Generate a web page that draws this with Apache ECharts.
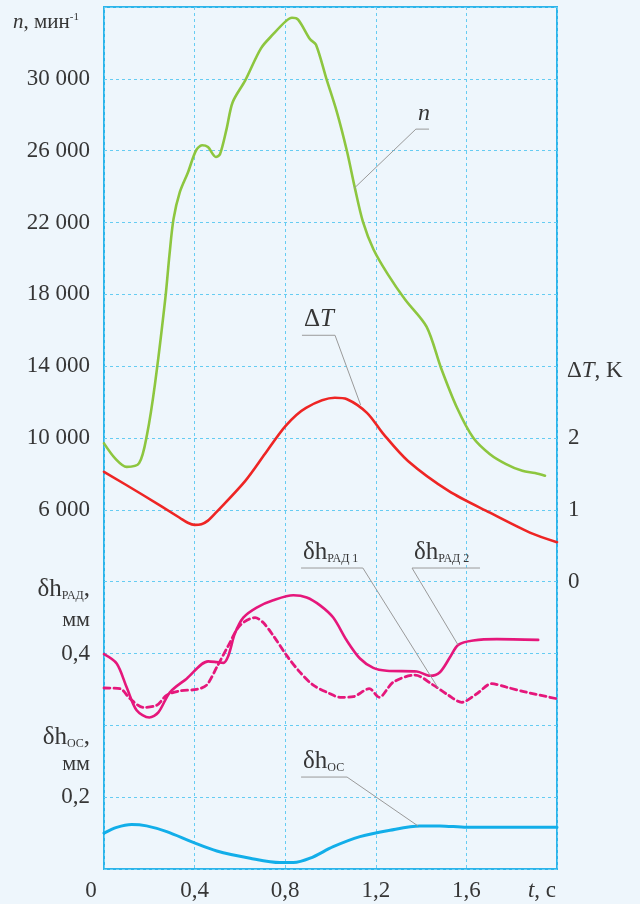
<!DOCTYPE html>
<html>
<head>
<meta charset="utf-8">
<script src="https://cdn.jsdelivr.net/npm/echarts@6/dist/echarts.min.js"></script>
<style>
  html, body { margin: 0; padding: 0; background: #eef6fc; }
  #chart { width: 640px; height: 904px; }
</style>
</head>
<body>
<div id="chart"></div>
<script>
// ---- tick labels ----
const timeTicks = [0, 0.4, 0.8, 1.2, 1.6, 2.0];
const speedTicks = [6000, 10000, 14000, 18000, 22000, 26000, 30000];
const tempTicks = [0, 1, 2];
const gapTicks = [0.2, 0.4];

// ---- rotor speed n, min^-1 ----
const speedTime = [0, 0.05, 0.1, 0.155, 0.19, 0.225, 0.271, 0.289, 0.307, 0.335, 0.371, 0.406, 0.433, 0.459, 0.494, 0.512, 0.541, 0.568, 0.623, 0.693, 0.748, 0.802, 0.83, 0.857, 0.91, 0.936, 0.982, 1.027, 1.073, 1.108, 1.143, 1.19, 1.254, 1.33, 1.424, 1.488, 1.558, 1.631, 1.704, 1.775, 1.847, 1.903, 1.947];
const speedValues = [9700, 8850, 8390, 8600, 10200, 13000, 17800, 20200, 22200, 23700, 24800, 26000, 26300, 26200, 25650, 25800, 27200, 28700, 29900, 31700, 32500, 33200, 33400, 33300, 32200, 31900, 30000, 28200, 25950, 23900, 22050, 20500, 19100, 17700, 16200, 13900, 11700, 10000, 9100, 8550, 8170, 8050, 7900];

// ---- temperature difference ΔT, K ----
const tempTime = [0, 0.17, 0.334, 0.37, 0.4, 0.43, 0.459, 0.494, 0.623, 0.711, 0.802, 0.892, 1.019, 1.073, 1.161, 1.235, 1.342, 1.523, 1.704, 1.883, 2.0];
const tempValues = [1.53, 1.21, 0.89, 0.82, 0.79, 0.80, 0.85, 0.96, 1.40, 1.78, 2.17, 2.42, 2.56, 2.54, 2.35, 2.05, 1.68, 1.26, 0.96, 0.68, 0.55];

// ---- radial gap δh_РАД 1 (dashed), mm ----
const gap1Time = [0, 0.071, 0.115, 0.174, 0.233, 0.277, 0.336, 0.409, 0.453, 0.498, 0.549, 0.6, 0.667, 0.703, 0.747, 0.807, 0.865, 0.924, 0.998, 1.042, 1.101, 1.171, 1.215, 1.277, 1.373, 1.454, 1.52, 1.579, 1.646, 1.712, 1.778, 1.866, 2.0];
const gap1Values = [0.352, 0.351, 0.337, 0.325, 0.328, 0.342, 0.348, 0.35, 0.356, 0.381, 0.411, 0.439, 0.45, 0.443, 0.425, 0.397, 0.374, 0.356, 0.344, 0.339, 0.34, 0.351, 0.339, 0.36, 0.37, 0.356, 0.342, 0.332, 0.344, 0.358, 0.353, 0.346, 0.337];

// ---- radial gap δh_РАД 2 (solid), mm ----
const gap2Time = [0, 0.056, 0.1, 0.144, 0.2, 0.24, 0.291, 0.365, 0.46, 0.498, 0.527, 0.549, 0.578, 0.615, 0.674, 0.747, 0.836, 0.895, 0.954, 1.012, 1.072, 1.13, 1.189, 1.248, 1.381, 1.439, 1.483, 1.528, 1.564, 1.63, 1.734, 1.917];
const gap2Values = [0.399, 0.386, 0.353, 0.321, 0.311, 0.318, 0.346, 0.365, 0.389, 0.388, 0.387, 0.397, 0.428, 0.45, 0.464, 0.474, 0.481, 0.478, 0.467, 0.45, 0.418, 0.393, 0.38, 0.376, 0.375, 0.369, 0.374, 0.395, 0.412, 0.418, 0.42, 0.419];

// ---- axial gap δh_ОС, mm ----
const gapOsTime = [0, 0.056, 0.122, 0.188, 0.277, 0.394, 0.498, 0.645, 0.777, 0.836, 0.91, 1.012, 1.13, 1.263, 1.395, 1.483, 1.601, 2.0];
const gapOsValues = [0.150, 0.158, 0.162, 0.16, 0.152, 0.137, 0.125, 0.115, 0.109, 0.109, 0.115, 0.131, 0.145, 0.154, 0.16, 0.16, 0.158, 0.158];

const zip = (xs, ys) => xs.map((x, i) => [x, ys[i]]);

const FONT = '"Liberation Serif", "DejaVu Serif", serif';
const TEXT = '#363636';
const GRID_LINE = { color: '#66ccf2', type: [3, 3], width: 1 };

const near = (list, v) => list.some(t => Math.abs(t - v) < 1e-6);
const thousands = v => String(v).replace(/\B(?=(\d{3})+(?!\d))/g, ' ');
const decimal = v => (Math.round(v * 10) / 10).toFixed(1).replace('.', ',');

const chart = echarts.init(document.getElementById('chart'), null, { renderer: 'canvas' });

const baseLabel = { fontFamily: FONT, fontSize: 23, color: TEXT };

function lineSeries(name, xs, ys, axis, color, width, dash) {
  return {
    name, type: 'line', yAxisIndex: axis, data: zip(xs, ys),
    showSymbol: false, smooth: 0.3,
    lineStyle: { color, width, type: dash || 'solid', cap: 'round', join: 'round' },
    itemStyle: { color }, silent: true, animation: false
  };
}

chart.setOption({
  backgroundColor: '#eef6fc',
  animation: false,
  grid: {
    left: 104, right: 83, top: 7, bottom: 35,
    show: true, borderColor: '#2cb4ea', borderWidth: 2, backgroundColor: 'transparent'
  },
  xAxis: {
    type: 'value', min: 0, max: 2, interval: 0.4,
    axisLine: { show: false }, axisTick: { show: false },
    splitLine: { show: true, lineStyle: GRID_LINE },
    axisLabel: Object.assign({}, baseLabel, {
      margin: 10,
      formatter: v => {
        if (v === 0) return '{z|0}';
        if (Math.abs(v - 2) < 1e-9) return '{ti|t}{tc|, c}';
        return near(timeTicks, v) ? decimal(v) : '';
      },
      rich: {
        z: { fontFamily: FONT, fontSize: 23, color: TEXT, padding: [0, 26, 0, 0] },
        ti: { fontFamily: FONT, fontSize: 23, color: TEXT, fontStyle: 'italic' },
        tc: { fontFamily: FONT, fontSize: 23, color: TEXT, padding: [0, 30, 0, 0] }
      }
    })
  },
  yAxis: [
    { // n
      type: 'value', position: 'left', min: -14000, max: 34000, interval: 2000,
      axisLine: { show: false }, axisTick: { show: false }, splitLine: { show: false },
      axisLabel: Object.assign({}, baseLabel, {
        margin: 14,
        formatter: v => speedTicks.includes(v) ? thousands(v) : ''
      })
    },
    { // ΔT
      type: 'value', position: 'right', min: -4, max: 8, interval: 1,
      axisLine: { show: false }, axisTick: { show: false },
      splitLine: { show: true, lineStyle: GRID_LINE },
      axisLabel: Object.assign({}, baseLabel, {
        margin: 11,
        formatter: v => near(tempTicks, v) ? String(Math.round(v)) : ''
      })
    },
    { // δh
      type: 'value', position: 'left', min: 0.1, max: 1.3, interval: 0.1,
      axisLine: { show: false }, axisTick: { show: false }, splitLine: { show: false },
      axisLabel: Object.assign({}, baseLabel, {
        margin: 14,
        formatter: v => near(gapTicks, v) ? decimal(v) : ''
      })
    }
  ],
  series: [
    lineSeries('n', speedTime, speedValues, 0, '#8dc63f', 2.6),
    lineSeries('ΔT', tempTime, tempValues, 1, '#ee2524', 2.6),
    lineSeries('δh РАД 1', gap1Time, gap1Values, 2, '#e5177b', 2.8, [6, 4]),
    lineSeries('δh РАД 2', gap2Time, gap2Values, 2, '#e5177b', 2.6),
    lineSeries('δh ОС', gapOsTime, gapOsValues, 2, '#12aee9', 3)
  ]
});

// ---- axis titles and curve callouts ----
const richBase = (size) => ({
  r: { fontFamily: FONT, fontSize: size, fill: TEXT },
  i: { fontFamily: FONT, fontSize: size, fill: TEXT, fontStyle: 'italic' },
  sub: { fontFamily: FONT, fontSize: 12, fill: TEXT, verticalAlign: 'bottom', lineHeight: size },
  sup: { fontFamily: FONT, fontSize: 11, fill: TEXT, verticalAlign: 'top', lineHeight: size }
});

function label(text, x, y, size, align) {
  return {
    type: 'text', silent: true, z: 10,
    style: {
      text, x, y, rich: richBase(size),
      align: align || 'left', verticalAlign: 'middle',
      font: size + 'px ' + FONT, fill: TEXT
    }
  };
}

const graphics = [
  label('{i|n}{r|, мин}{sup|-1}', 13, 22, 21),
  label('{r|Δ}{i|T}{r|, K}', 567, 371, 23),
  label('{r|δh}{sub|РАД}{r|,}', 90, 589, 25, 'right'),
  label('{r|мм}', 90, 620, 22, 'right'),
  label('{r|δh}{sub|ОС}{r|,}', 90, 737, 25, 'right'),
  label('{r|мм}', 90, 764, 22, 'right')
];

// callouts: underline from `a` to `b` (data coords on the given y axis), leader from `from` end to `to`
const callouts = [
  { axis: 0, text: '{i|n}', size: 24, a: [1.377, 27200], b: [1.435, 27200], from: 'a', to: [1.104, 23900] },
  { axis: 1, text: '{r|Δ}{i|T}', size: 25, a: [0.874, 3.43], b: [1.02, 3.43], from: 'b', to: [1.133, 2.46] },
  { axis: 2, text: '{r|δh}{sub|РАД 1}', size: 25, a: [0.87, 0.519], b: [1.143, 0.519], from: 'b', to: [1.475, 0.352] },
  { axis: 2, text: '{r|δh}{sub|РАД 2}', size: 25, a: [1.36, 0.519], b: [1.66, 0.519], from: 'a', to: [1.563, 0.412] },
  { axis: 2, text: '{r|δh}{sub|ОС}', size: 25, a: [0.87, 0.228], b: [1.073, 0.228], from: 'b', to: [1.386, 0.16] }
];

callouts.forEach(c => {
  const P = p => chart.convertToPixel({ xAxisIndex: 0, yAxisIndex: c.axis }, p);
  const pa = P(c.a), pb = P(c.b), pt = P(c.to);
  const start = c.from === 'a' ? pa : pb;
  graphics.push({
    type: 'polyline', silent: true, z: 5,
    shape: { points: [pa, pb] },
    style: { stroke: '#9a9a9a', lineWidth: 1, fill: null }
  });
  graphics.push({
    type: 'polyline', silent: true, z: 5,
    shape: { points: [start, pt] },
    style: { stroke: '#9a9a9a', lineWidth: 1, fill: null }
  });
  graphics.push({
    type: 'text', silent: true, z: 10,
    style: {
      text: c.text, x: pa[0] + 2, y: pa[1] - 3, rich: richBase(c.size),
      align: 'left', verticalAlign: 'bottom', font: c.size + 'px ' + FONT, fill: TEXT
    }
  });
});

chart.setOption({ graphic: graphics });
</script>
</body>
</html>
